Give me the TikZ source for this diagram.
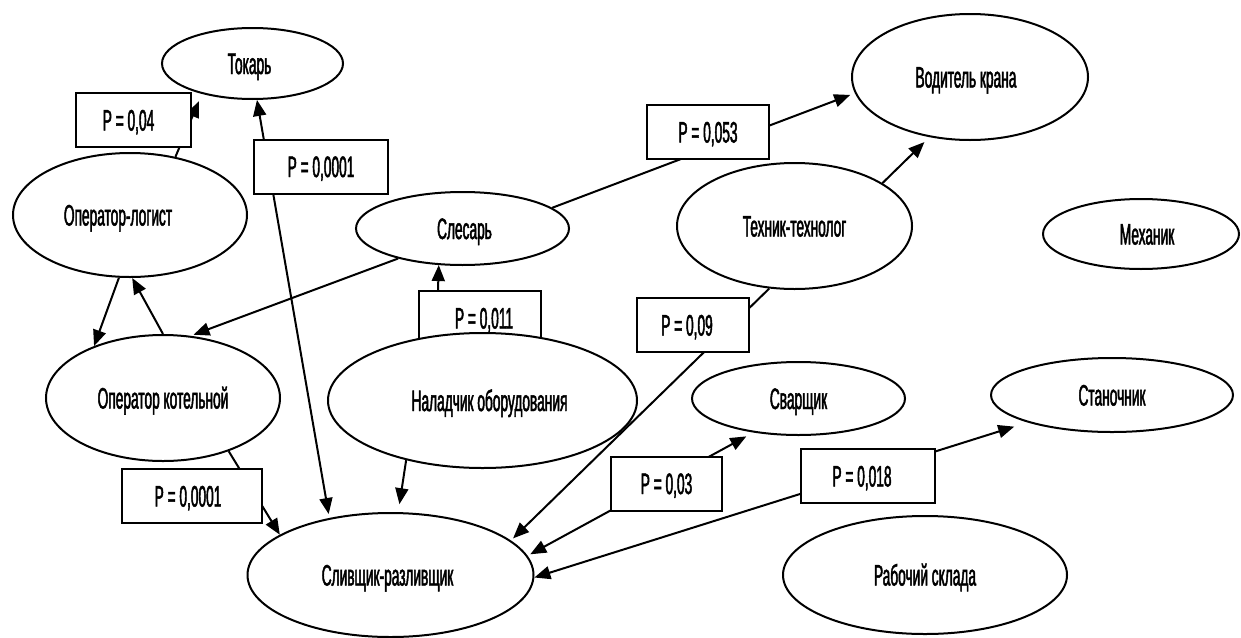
\documentclass[tikz,border=0pt]{standalone}
\usepackage{fontspec}
\setmainfont{Liberation Sans}[FakeStretch=0.465, FakeBold=1.6]
\usetikzlibrary{shapes.geometric,arrows.meta}
\pgfdeclarelayer{bg}
\pgfdeclarelayer{fg}
\pgfsetlayers{bg,main,fg}
\newcommand{\tshift}[2]{\kern#1pt #2\kern-#1pt}
\begin{document}
\begin{tikzpicture}[x=1pt,y=-1pt,
  every node/.style={font=\fontsize{29.5}{33}\selectfont, text height=21pt, text depth=0pt},
  ell/.style={ellipse, draw, line width=2pt, fill=white, inner sep=0pt},
  pbox/.style={rectangle, draw, line width=2pt, fill=white, inner sep=0pt, minimum height=54pt},
  con/.style={line width=2pt},
  arr/.style={-{Triangle[length=16pt,width=13pt]}},
  darr/.style={{Triangle[length=16pt,width=13pt]}-{Triangle[length=16pt,width=13pt]}}]
\useasboundingbox (0,0) rectangle (1241,637);
% ellipses
\node[ell, minimum width=181pt, minimum height=71pt]  (tok)  at (252.5,63.5) {\tshift{-3}{Токарь}};
\node[ell, minimum width=234pt, minimum height=124pt] (log)  at (130,215)    {\tshift{-12}{Оператор-логист}};
\node[ell, minimum width=234pt, minimum height=126pt] (kot)  at (163,398)    {Оператор котельной};
\node[ell, minimum width=309pt, minimum height=135pt] (nal)  at (482.5,400.5){\tshift{7}{Наладчик оборудования}};
\node[ell, minimum width=286pt, minimum height=124pt] (sliv) at (390.5,575)  {\tshift{-3}{Сливщик-разливщик}};
\node[ell, minimum width=213pt, minimum height=73pt]  (sles) at (462.5,228.5){\tshift{2}{Слесарь}};
\node[ell, minimum width=235pt, minimum height=126pt] (tech) at (794.5,226)  {Техник-технолог};
\node[ell, minimum width=236pt, minimum height=126pt] (vod)  at (970,77)     {\tshift{-4}{Водитель крана}};
\node[ell, minimum width=196pt, minimum height=70pt]  (mech) at (1141,234)   {\tshift{6}{Механик}};
\node[ell, minimum width=213pt, minimum height=73pt]  (svar) at (798.5,398.5){Сварщик};
\node[ell, minimum width=242pt, minimum height=74pt]  (stan) at (1112,395)   {Станочник};
\node[ell, minimum width=284pt, minimum height=118pt] (rab)  at (925,575)    {Рабочий склада};
% behind Наладчик
\begin{pgfonlayer}{bg}
\draw[con,arr] (nal.125.8) -- (sles.237.8);
\node[pbox, minimum width=122pt] (b011) at (480,318) {\tshift{4}{P = 0,011}};
\end{pgfonlayer}
% connectors and probability boxes
\begin{pgfonlayer}{fg}
\draw[con,arr,shorten >=8pt] (log.52.5) -- (tok.211.3);
\draw[con,darr,shorten >=4pt] (tok.277) -- (sliv.137.7);
\draw[con,arr] (kot.90) -- (log.272.8);
\draw[con,arr] (log.260.8) -- (kot.143);
\draw[con,arr,shorten >=3pt] (sles.205.3) -- (kot.66.5);
\draw[con,arr,shorten >=5pt] (sles.13.8) -- (vod.188);
\draw[con,arr,shorten >=7pt] (tech.26.2) -- (vod.236.7);
\draw[con,arr,shorten >=3pt] (tech.248.3) -- (sliv.16.2);
\draw[con,arr,shorten >=8pt] (nal.218) -- (sliv.83.5);
\draw[con,arr] (kot.321.3) -- (sliv.160.4);
\draw[con,darr,shorten <=3pt,shorten >=8pt] (sliv.8.7) -- (svar.217.9);
\draw[con,darr,shorten >=14pt] (sliv.359.2) -- (stan.198.8);
\node[pbox, minimum width=115pt] (b04)   at (133.5,120) {\tshift{-5}{P = 0,04}};
\node[pbox, minimum width=134pt] (b0001a) at (321,166.5) {P = 0,0001};
\node[pbox, minimum width=122pt] (b053)  at (708,132)   {P = 0,053};
\node[pbox, minimum width=112pt] (b09)   at (693,325)   {\tshift{-6}{P = 0,09}};
\node[pbox, minimum width=140pt] (b0001b) at (192,496)  {\tshift{-4}{P = 0,0001}};
\node[pbox, minimum width=111pt] (b03)   at (666.5,483.5) {P = 0,03};
\node[pbox, minimum width=134pt] (b018)  at (868,476)   {\tshift{-6}{P = 0,018}};
\end{pgfonlayer}
\end{tikzpicture}
\end{document}
